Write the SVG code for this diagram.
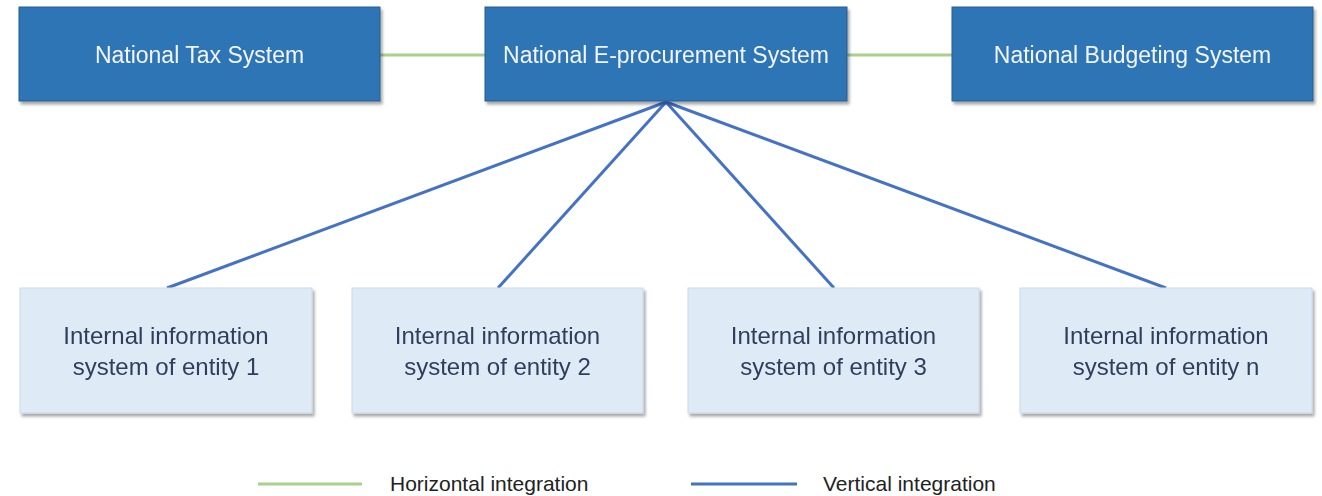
<svg xmlns="http://www.w3.org/2000/svg" width="1322" height="496" viewBox="0 0 1322 496">
  <style>
    .top rect { fill: #2E74B5; stroke: #2B5C8E; stroke-width: 1; }
    .top text { fill: #F2F6FB; font-family: "Liberation Sans", Arial, sans-serif; font-size: 23px; text-anchor: middle; }
    .low rect { fill: #DEEAF6; stroke: #C9D9EA; stroke-width: 1; }
    .low text { fill: #303E5C; font-family: "Liberation Sans", Arial, sans-serif; font-size: 24px; text-anchor: middle; }
    .h { stroke: #A9D18E; stroke-width: 3; fill: none; }
    .v { stroke: #4472C4; stroke-width: 3; fill: none; }
    .legend { fill: #222; font-family: "Liberation Sans", Arial, sans-serif; font-size: 21px; }
  </style>
  <defs>
    <filter id="shadow" x="-5%" y="-5%" width="112%" height="120%">
      <feGaussianBlur in="SourceAlpha" stdDeviation="1.5"/>
      <feOffset dx="2" dy="3" result="b"/>
      <feComponentTransfer><feFuncA type="linear" slope="0.35"/></feComponentTransfer>
      <feMerge><feMergeNode/><feMergeNode in="SourceGraphic"/></feMerge>
    </filter>
  </defs>
  <rect width="1322" height="496" fill="#FFFFFF"/>

  <!-- connectors -->
  <g id="connectors">
    <line class="h" x1="380" y1="55" x2="485" y2="55"/>
    <line class="h" x1="847" y1="55" x2="952" y2="55"/>
    <line class="v" x1="666" y1="102" x2="167" y2="288"/>
    <line class="v" x1="666" y1="102" x2="498" y2="288"/>
    <line class="v" x1="666" y1="102" x2="834" y2="288"/>
    <line class="v" x1="666" y1="102" x2="1166" y2="288"/>
  </g>

  <!-- national systems -->
  <g id="tax" class="top" filter="url(#shadow)">
    <rect x="19" y="7" width="361" height="94"/>
    <text x="199.5" y="63">National Tax System</text>
  </g>
  <g id="eproc" class="top" filter="url(#shadow)">
    <rect x="485" y="7" width="362" height="94"/>
    <text x="666" y="63">National E-procurement System</text>
  </g>
  <g id="budget" class="top" filter="url(#shadow)">
    <rect x="952" y="7" width="361" height="94"/>
    <text x="1132.5" y="63">National Budgeting System</text>
  </g>

  <!-- entity systems -->
  <g id="entity1" class="low" filter="url(#shadow)">
    <rect x="20" y="288" width="292" height="125"/>
    <text x="166" y="344">Internal information</text>
    <text x="166" y="375">system of entity 1</text>
  </g>
  <g id="entity2" class="low" filter="url(#shadow)">
    <rect x="352" y="288" width="291" height="125"/>
    <text x="497.5" y="344">Internal information</text>
    <text x="497.5" y="375">system of entity 2</text>
  </g>
  <g id="entity3" class="low" filter="url(#shadow)">
    <rect x="688" y="288" width="291" height="125"/>
    <text x="833.5" y="344">Internal information</text>
    <text x="833.5" y="375">system of entity 3</text>
  </g>
  <g id="entityn" class="low" filter="url(#shadow)">
    <rect x="1020" y="288" width="292" height="125"/>
    <text x="1166" y="344">Internal information</text>
    <text x="1166" y="375">system of entity n</text>
  </g>

  <!-- legend -->
  <g id="legend">
    <line class="h" x1="258" y1="484" x2="362" y2="484"/>
    <text class="legend" x="390" y="491">Horizontal integration</text>
    <line class="v" x1="691" y1="484" x2="797" y2="484"/>
    <text class="legend" x="823" y="491">Vertical integration</text>
  </g>
</svg>
